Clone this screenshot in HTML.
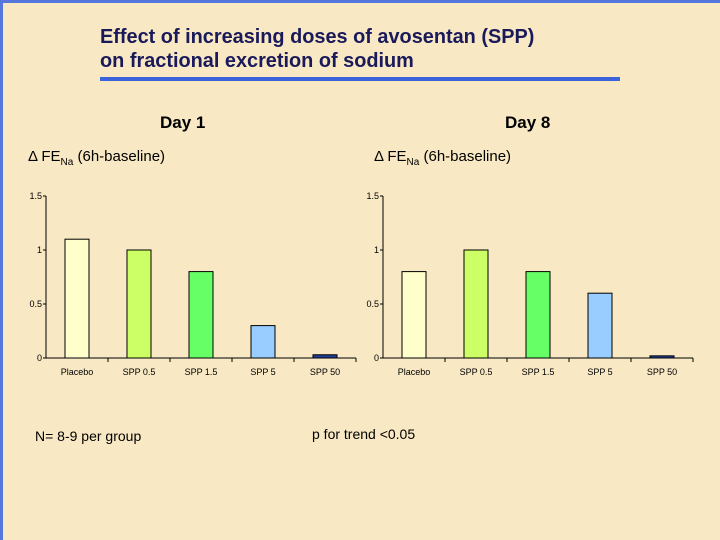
<!DOCTYPE html>
<html><head><meta charset="utf-8"><style>
body{margin:0;}
#page{position:relative;width:720px;height:540px;overflow:hidden;background:#f8e8c4;font-family:"Liberation Sans",sans-serif;}
.t{position:absolute;white-space:nowrap;}
</style></head><body>
<div id="page">
<div style="position:absolute;left:0;top:0;width:3px;height:540px;background:#5577dd;"></div>
<div style="position:absolute;left:0;top:0;width:720px;height:3px;background:#5577dd;"></div>
<div class="t" style="left:100px;top:25px;font-size:19.9px;font-weight:bold;color:#1a1a5a;line-height:24px;">Effect of increasing doses of avosentan (SPP)<br>on fractional excretion of sodium</div>
<div style="position:absolute;left:100px;top:77px;width:520px;height:4px;background:#3d63dc;"></div>
<div class="t" style="left:160px;top:113px;font-size:17px;font-weight:bold;">Day 1</div>
<div class="t" style="left:505px;top:113px;font-size:17px;font-weight:bold;">Day 8</div>
<div class="t" style="left:28px;top:148px;font-size:15px;">&Delta; FE<sub style="font-size:10px">Na</sub> (6h-baseline)</div>
<div class="t" style="left:374px;top:148px;font-size:15px;">&Delta; FE<sub style="font-size:10px">Na</sub> (6h-baseline)</div>
<div class="t" style="left:35px;top:428px;font-size:14px;">N= 8-9 per group</div>
<div class="t" style="left:312px;top:426px;font-size:14px;">p for trend &lt;0.05</div>
<svg id="chart" width="720" height="540" style="position:absolute;left:0;top:0;"></svg>
</div>
<script>
const categories=["Placebo","SPP 0.5","SPP 1.5","SPP 5","SPP 50"];
const day1Values=[1.1,1.0,0.8,0.3,0.03];
const day8Values=[0.8,1.0,0.8,0.6,0.02];
const yTicks=[0,0.5,1,1.5];
const tickLabels=["0","0.5","1","1.5"];
const colors=["#ffffcc","#ccff66","#66ff66","#99ccff","#1f3f99"];
const svg=document.getElementById('chart');
const NS='http://www.w3.org/2000/svg';
function mk(tag,a){const e=document.createElementNS(NS,tag);for(const k in a)e.setAttribute(k,a[k]);svg.appendChild(e);return e;}
function draw(x0,x1,vals,id){
  const y0=358,ppu=108,band=(x1-x0)/categories.length,bw=24;
  const ys=v=>y0-v*ppu;
  let e=mk('line',{x1:x0,y1:ys(1.5),x2:x0,y2:y0,stroke:'#000'});
  
  e=mk('line',{x1:x0,y1:y0,x2:x1,y2:y0,stroke:'#000'});
  
  yTicks.forEach((t,i)=>{
    mk('line',{x1:x0-3,y1:ys(t),x2:x0,y2:ys(t),stroke:'#000'});
    const tx=mk('text',{x:x0-4,y:ys(t)+3,'text-anchor':'end','font-size':9,'font-family':'Liberation Sans, sans-serif'});
    tx.textContent=tickLabels[i];
    
    
  });
  categories.forEach((c,i)=>{
    const cx=x0+band*(i+0.5);
    mk('line',{x1:x0+band*(i+1),y1:y0,x2:x0+band*(i+1),y2:y0+4,stroke:'#000'});
    const r=mk('rect',{x:cx-bw/2,y:ys(vals[i]),width:bw,height:vals[i]*ppu,fill:colors[i],stroke:'#000','stroke-width':1});
    
    
    const tx=mk('text',{x:cx,y:y0+17,'text-anchor':'middle','font-size':9,'font-family':'Liberation Sans, sans-serif'});
    tx.textContent=c;
    
    
  });
}
draw(46,356,day1Values,'day1');
draw(383,693,day8Values,'day8');
</script>
</body></html>
